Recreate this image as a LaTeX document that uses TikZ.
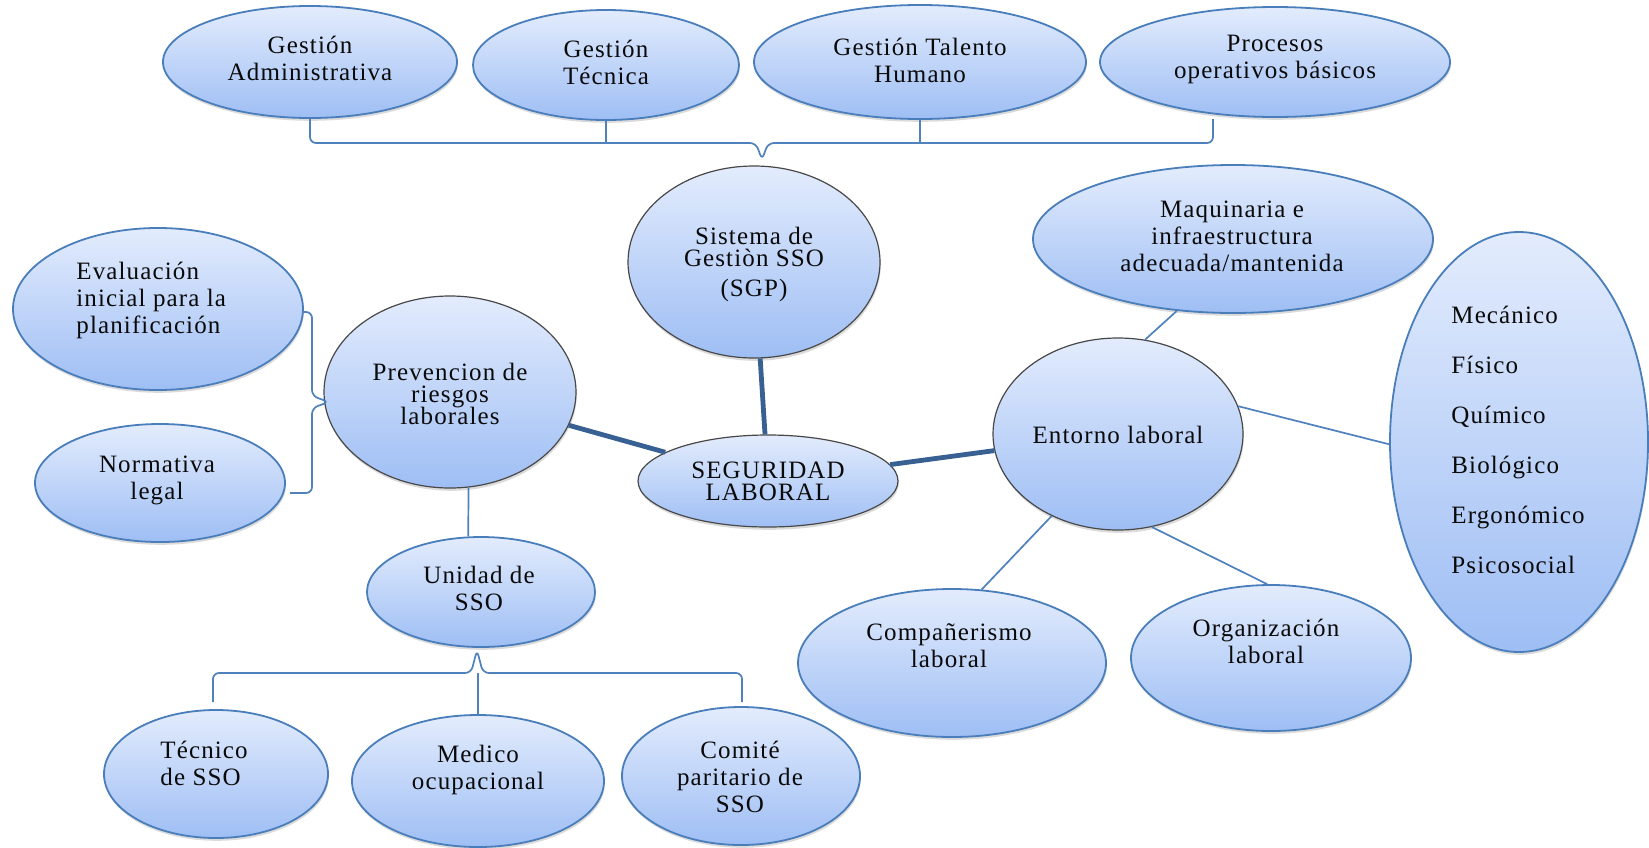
\documentclass[tikz,border=0pt]{standalone}
\usepackage{fontspec}
\setmainfont{Liberation Serif}
\newfontfamily\labelfont{Liberation Serif}[LetterSpace=4.5]
\usetikzlibrary{shapes.geometric,shadows,calc}
\definecolor{bTop}{RGB}{227,236,253}
\definecolor{bBot}{RGB}{158,190,244}
\definecolor{bEdge}{RGB}{74,126,187}
\definecolor{hubEdge}{RGB}{72,72,72}
\definecolor{lineBlue}{RGB}{79,129,189}
\definecolor{spokeBlue}{RGB}{56,96,146}
\definecolor{ink}{RGB}{10,10,10}
\setlength{\lineskiplimit}{-20pt}
\begin{document}
\begin{tikzpicture}[x=0.5pt,y=-0.5pt,
  bubble/.style={ellipse, inner sep=0pt, top color=bTop, bottom color=bBot,
    draw=bEdge, line width=0.9pt,
    drop shadow={shadow xshift=0.4pt, shadow yshift=-1.4pt, opacity=0.28}},
  hub/.style={bubble, draw=hubEdge, line width=0.6pt},
  conn/.style={draw=lineBlue, line width=0.85pt},
  spoke/.style={draw=spokeBlue, line width=2.4pt},
  txt/.style={inner sep=0pt, align=center, text=ink, font=\labelfont\fontsize{12.5}{13.5}\selectfont},
  txtl/.style={txt, align=left},
  tight/.style={font=\labelfont\fontsize{12.5}{11}\selectfont},
]
\fill[white] (0,0) rectangle (1649,847);
\useasboundingbox (0,0) rectangle (1649,847);

% top row
\node[bubble, minimum width=147pt, minimum height=56pt] (ga)  at (310,62) {};
\node[bubble, minimum width=133pt, minimum height=55pt] (gt)  at (606,65) {};
\node[bubble, minimum width=166pt, minimum height=57pt] (gth) at (920,62) {};
\node[bubble, minimum width=175pt, minimum height=55pt] (pob) at (1275,62) {};

% hubs
\node[hub, minimum width=126pt, minimum height=96pt] (sgp)  at (754,262) {};
\node[hub, minimum width=130pt, minimum height=46pt] (seg)  at (768,481) {};
\node[hub, minimum width=126pt, minimum height=96pt] (prev) at (450,392) {};
\node[hub, minimum width=125pt, minimum height=96pt] (ent)  at (1118,434) {};

% left branch
\node[bubble, minimum width=145pt, minimum height=81pt] (eval) at (158,309) {};
\node[bubble, minimum width=125pt, minimum height=59pt] (norm) at (160,483) {};
\node[bubble, minimum width=114pt, minimum height=55pt] (unid) at (481,592) {};
\node[bubble, minimum width=112pt, minimum height=64pt] (tec)  at (216,774) {};
\node[bubble, minimum width=126pt, minimum height=66pt] (med)  at (478,781) {};
\node[bubble, minimum width=119pt, minimum height=69pt] (com)  at (741,776) {};

% right branch
\node[bubble, minimum width=200pt, minimum height=74pt]  (maq)  at (1233,239) {};
\node[bubble, minimum width=129pt, minimum height=210pt] (mec)  at (1519,442) {};
\node[bubble, minimum width=154pt, minimum height=74pt]  (comp) at (952,663) {};
\node[bubble, minimum width=140pt, minimum height=73pt]  (org)  at (1271,658) {};

% labels
\node[txt] (ga-t)  at (310,58) {Gestión\\Administrativa};
\node[txt] (gt-t)  at (606,62) {Gestión\\Técnica};
\node[txt] (gth-t) at (920,60) {Gestión Talento\\Humano};
\node[txt] (pob-t) at (1275,59) {Procesos\\operativos básicos};
\node[txt, tight] (sgp-t)  at (754,264) {Sistema de\\Gestiòn SSO\\[4pt](SGP)};
\node[txt, tight] (seg-t)  at (768,481) {SEGURIDAD\\LABORAL};
\node[txt, tight] (prev-t) at (450,394) {Prevencion de\\riesgos\\laborales};
\node[txt] (ent-t) at (1118,435) {Entorno laboral};
\node[txtl, anchor=west] (eval-t) at (76,300) {Evaluación\\inicial para la\\planificación};
\node[txt] (norm-t) at (157,480) {Normativa\\legal};
\node[txt] (unid-t) at (479,588) {Unidad de\\SSO};
\node[txtl, anchor=west] (tec-t) at (160,763) {Técnico\\de SSO};
\node[txt] (med-t) at (478,770) {Medico\\ocupacional};
\node[txt] (com-t) at (740,777) {Comité\\paritario de\\SSO};
\node[txt] (maq-t) at (1232,236) {Maquinaria e\\infraestructura\\adecuada/mantenida};
\node[txtl, anchor=west, font=\labelfont\fontsize{12.5}{25}\selectfont] (mec-t) at (1451,440)
  {Mecánico\\Físico\\Químico\\Biológico\\Ergonómico\\Psicosocial};
\node[txt] (comp-t) at (949,646) {Compañerismo\\laboral};
\node[txt] (org-t)  at (1266,641) {Organización\\laboral};

% main spokes
\draw[spoke] (sgp) -- (seg);
\draw[spoke] (prev) -- (seg);
\draw[spoke] (seg) -- (ent);

% thin links
\draw[conn] (prev.281) -- (unid.103);
\draw[conn] (ent.74)  -- (maq.232);
\draw[conn] (ent.13)  -- (mec.181);
\draw[conn] (ent.231) -- (comp.68);
\draw[conn] (ent.290) -- (org.93);

% brace over the top row
\coordinate (top-spine) at (762,143);
\coordinate (tip-top) at (762,160);
\coordinate (pob-foot) at (1213,119);
\draw[conn, rounded corners=3pt] (ga.south) -- (ga.south |- top-spine)
  -- ($(top-spine)+(-6,0)$) -- (tip-top) -- ($(top-spine)+(6,0)$)
  -- (pob-foot |- top-spine) -- (pob-foot);
\draw[conn] (gt.south) -- (gt.south |- top-spine);
\draw[conn] (gth.south) -- (gth.south |- top-spine);

% brace beside the left pair
\coordinate (left-spine) at (312,402);
\coordinate (tip-left) at (329,402);
\coordinate (eval-foot) at (302,312);
\coordinate (norm-foot) at (290,493);
\draw[conn, rounded corners=3pt] (eval-foot) -- (eval-foot -| left-spine)
  -- ($(left-spine)+(0,-6)$) -- (tip-left) -- ($(left-spine)+(0,6)$)
  -- (norm-foot -| left-spine) -- (norm-foot);

% brace under the unit
\coordinate (bot-spine) at (477,673);
\coordinate (tip-bot) at (477,650);
\coordinate (tec-foot) at (213,702);
\coordinate (com-foot) at (742,702);
\draw[conn, rounded corners=3pt] (tec-foot) -- (tec-foot |- bot-spine)
  -- ($(bot-spine)+(-6,0)$) -- (tip-bot) -- ($(bot-spine)+(6,0)$)
  -- (com-foot |- bot-spine) -- (com-foot);
\draw[conn] (med.north) -- (med.north |- bot-spine);
\end{tikzpicture}
\end{document}
